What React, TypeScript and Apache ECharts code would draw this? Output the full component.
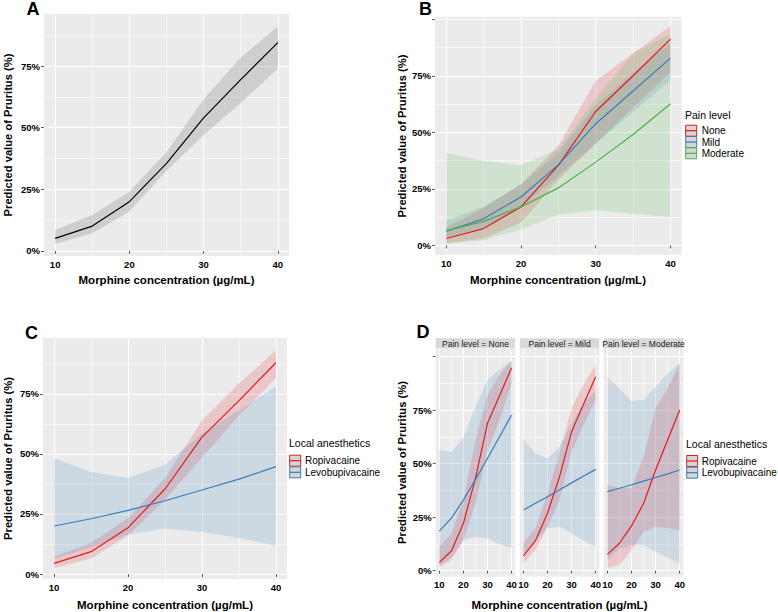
import React, { useEffect, useRef } from 'react';
import * as echarts from 'echarts';

// ---------- data ----------
const doseLevels = [10, 15, 20, 25, 30, 35, 40];
const xMajorTicks = [10, 20, 30, 40];
const xMinorTicks = [15, 25, 35];
const yMajorTicks = [0, 0.25, 0.5, 0.75];
const yMajorTicksFull = [0, 0.25, 0.5, 0.75, 1];
const yMinorTicks = [0.125, 0.375, 0.625, 0.875];
const painLevels = ['None', 'Mild', 'Moderate'];
const anesthetics = ['Ropivacaine', 'Levobupivacaine'];

// Panel A (overall)
const overallFit = [0.051, 0.101, 0.2, 0.355, 0.54, 0.695, 0.845];
const overallLow = [0.028, 0.072, 0.16, 0.325, 0.47, 0.6, 0.74];
const overallHigh = [0.085, 0.146, 0.24, 0.4, 0.615, 0.785, 0.91];

// Panel B (pain level)
const painNoneFit = [0.03, 0.074, 0.17, 0.354, 0.592, 0.75, 0.912];
const painNoneLow = [0.01, 0.03, 0.1, 0.29, 0.45, 0.61, 0.765];
const painNoneHigh = [0.08, 0.165, 0.27, 0.44, 0.728, 0.85, 0.97];
const painMildFit = [0.062, 0.117, 0.214, 0.356, 0.538, 0.683, 0.828];
const painMildLow = [0.034, 0.08, 0.168, 0.305, 0.45, 0.59, 0.73];
const painMildHigh = [0.11, 0.17, 0.27, 0.41, 0.62, 0.765, 0.895];
const painModFit = [0.065, 0.106, 0.17, 0.254, 0.368, 0.49, 0.626];
const painModLow = [0.007, 0.022, 0.069, 0.135, 0.155, 0.14, 0.125];
const painModHigh = [0.41, 0.373, 0.355, 0.425, 0.65, 0.85, 0.935];

// Panel C (local anesthetics)
const ropiFit = [0.044, 0.093, 0.193, 0.354, 0.57, 0.722, 0.88];
const ropiLow = [0.025, 0.065, 0.16, 0.31, 0.485, 0.66, 0.815];
const ropiHigh = [0.072, 0.13, 0.232, 0.4, 0.64, 0.794, 0.932];
const levoFit = [0.2, 0.23, 0.265, 0.305, 0.35, 0.395, 0.447];
const levoLow = [0.065, 0.11, 0.165, 0.19, 0.175, 0.15, 0.118];
const levoHigh = [0.482, 0.425, 0.4, 0.455, 0.585, 0.68, 0.783];

// Panel D (facets by pain level)
const dNoneRopiFit = [0.039, 0.092, 0.221, 0.431, 0.688, 0.817, 0.947];
const dNoneRopiLow = [0.016, 0.05, 0.143, 0.314, 0.563, 0.7, 0.875];
const dNoneRopiHigh = [0.112, 0.174, 0.33, 0.61, 0.82, 0.915, 0.98];
const dNoneLevoFit = [0.185, 0.245, 0.33, 0.425, 0.525, 0.625, 0.727];
const dNoneLevoLow = [0.025, 0.06, 0.143, 0.159, 0.15, 0.125, 0.105];
const dNoneLevoHigh = [0.563, 0.555, 0.618, 0.765, 0.89, 0.94, 0.98];
const dMildRopiFit = [0.069, 0.14, 0.268, 0.439, 0.649, 0.778, 0.905];
const dMildRopiLow = [0.034, 0.097, 0.205, 0.33, 0.555, 0.68, 0.797];
const dMildRopiHigh = [0.128, 0.198, 0.36, 0.55, 0.758, 0.87, 0.96];
const dMildLevoFit = [0.283, 0.315, 0.345, 0.378, 0.41, 0.442, 0.473];
const dMildLevoLow = [0.08, 0.14, 0.198, 0.205, 0.174, 0.14, 0.112];
const dMildLevoHigh = [0.613, 0.548, 0.525, 0.579, 0.688, 0.78, 0.84];
const dModRopiFit = [0.076, 0.128, 0.209, 0.314, 0.47, 0.61, 0.75];
const dModRopiLow = [0.014, 0.027, 0.097, 0.182, 0.205, 0.198, 0.19];
const dModRopiHigh = [0.4, 0.385, 0.387, 0.532, 0.758, 0.85, 0.968];
const dModLevoFit = [0.369, 0.385, 0.401, 0.418, 0.435, 0.452, 0.47];
const dModLevoLow = [0.05, 0.104, 0.12, 0.12, 0.089, 0.06, 0.034];
const dModLevoHigh = [0.905, 0.851, 0.792, 0.797, 0.859, 0.92, 0.968];

// ---------- styles ----------
const FONT = '"Liberation Sans", Arial, sans-serif';
const RED = '#E41A1C';
const BLUE = '#377EB8';
const GREEN = '#4DAF4A';
const RED_FILL = 'rgba(228,26,28,0.17)';
const BLUE_FILL = 'rgba(55,126,184,0.17)';
const GREEN_FILL = 'rgba(77,175,74,0.17)';
const GREY_FILL = 'rgba(153,153,153,0.35)';
const X_MIN = 8.5;
const X_MAX = 41.5;

type Group = { fit: number[]; low: number[]; high: number[]; line: string; fill: string };
type Panel = {
  left: number; top: number; width: number; height: number;
  ymin: number; ymax: number; yTicks: number[]; showY: boolean; groups: Group[];
};

const panels: Panel[] = [
  {
    left: 44, top: 14, width: 245, height: 242, ymin: -0.0203, ymax: 0.961,
    yTicks: yMajorTicks, showY: true,
    groups: [{ fit: overallFit, low: overallLow, high: overallHigh, line: '#000', fill: GREY_FILL }],
  },
  {
    left: 435, top: 16.7, width: 246.7, height: 238.3, ymin: -0.043, ymax: 1.0115,
    yTicks: yMajorTicksFull, showY: true,
    groups: [
      { fit: painNoneFit, low: painNoneLow, high: painNoneHigh, line: RED, fill: RED_FILL },
      { fit: painMildFit, low: painMildLow, high: painMildHigh, line: BLUE, fill: BLUE_FILL },
      { fit: painModFit, low: painModLow, high: painModHigh, line: GREEN, fill: GREEN_FILL },
    ],
  },
  {
    left: 43, top: 338, width: 244, height: 241, ymin: -0.0208, ymax: 0.983,
    yTicks: yMajorTicks, showY: true,
    groups: [
      { fit: ropiFit, low: ropiLow, high: ropiHigh, line: RED, fill: RED_FILL },
      { fit: levoFit, low: levoLow, high: levoHigh, line: BLUE, fill: BLUE_FILL },
    ],
  },
  {
    left: 435.7, top: 348.3, width: 79.5, height: 228.4, ymin: -0.028, ymax: 1.038,
    yTicks: yMajorTicksFull, showY: true,
    groups: [
      { fit: dNoneRopiFit, low: dNoneRopiLow, high: dNoneRopiHigh, line: RED, fill: RED_FILL },
      { fit: dNoneLevoFit, low: dNoneLevoLow, high: dNoneLevoHigh, line: BLUE, fill: BLUE_FILL },
    ],
  },
  {
    left: 519.8, top: 348.3, width: 79.5, height: 228.4, ymin: -0.028, ymax: 1.038,
    yTicks: yMajorTicksFull, showY: false,
    groups: [
      { fit: dMildRopiFit, low: dMildRopiLow, high: dMildRopiHigh, line: RED, fill: RED_FILL },
      { fit: dMildLevoFit, low: dMildLevoLow, high: dMildLevoHigh, line: BLUE, fill: BLUE_FILL },
    ],
  },
  {
    left: 603.8, top: 348.3, width: 79.5, height: 228.4, ymin: -0.028, ymax: 1.038,
    yTicks: yMajorTicksFull, showY: false,
    groups: [
      { fit: dModRopiFit, low: dModRopiLow, high: dModRopiHigh, line: RED, fill: RED_FILL },
      { fit: dModLevoFit, low: dModLevoLow, high: dModLevoHigh, line: BLUE, fill: BLUE_FILL },
    ],
  },
];

function txt(text: string, x: number, y: number, size: number, opts: any = {}) {
  return {
    type: 'text',
    x,
    y,
    rotation: opts.rotation || 0,
    style: {
      text,
      fill: opts.color || '#000',
      fontSize: size,
      fontWeight: opts.bold ? 'bold' : 'normal',
      fontFamily: FONT,
      align: opts.align || 'left',
      verticalAlign: 'middle',
      textAlign: opts.align || 'left',
      textVerticalAlign: 'middle',
    },
  };
}

function legend(title: string, labels: string[], colors: string[], x: number, titleY: number, rowY: number[], textX: number) {
  const els: any[] = [txt(title, x, titleY, 10.5)];
  labels.forEach((lab, i) => {
    const cy = rowY[i];
    els.push({
      type: 'rect',
      shape: { x: x + 0.7, y: cy - 5.5, width: 11, height: 11 },
      style: { fill: '#D5D5D5', stroke: colors[i], lineWidth: 1 },
    });
    els.push({
      type: 'line',
      shape: { x1: x + 0.7, y1: cy, x2: x + 11.7, y2: cy },
      style: { stroke: colors[i], lineWidth: 1.2 },
    });
    els.push(txt(lab, textX, cy, 10));
  });
  return els;
}

function buildOption() {
  const grid: any[] = [];
  const xAxis: any[] = [];
  const yAxis: any[] = [];
  const series: any[] = [];

  panels.forEach((p, i) => {
    grid.push({
      left: p.left, top: p.top, width: p.width, height: p.height,
      show: true, backgroundColor: '#EBEBEB', borderWidth: 0, containLabel: false,
    });
    xAxis.push({
      type: 'value', gridIndex: i, min: X_MIN, max: X_MAX, position: 'bottom',
      axisLine: { show: false },
      axisTick: { show: true, customValues: xMajorTicks, length: 3, lineStyle: { color: '#333', width: 0.8 } },
      axisLabel: {
        show: true, customValues: xMajorTicks, margin: 3, fontSize: 9.5,
        fontWeight: 'bold', color: '#000', fontFamily: FONT,
      },
      splitLine: { show: true, lineStyle: { color: '#FFFFFF', width: 1.1 } },
    });
    xAxis.push({
      type: 'value', gridIndex: i, min: X_MIN, max: X_MAX, position: 'top',
      axisLine: { show: false },
      axisTick: { show: false, customValues: xMinorTicks },
      axisLabel: { show: false, customValues: xMinorTicks },
      splitLine: { show: true, lineStyle: { color: '#FFFFFF', width: 0.55 } },
    });
    yAxis.push({
      type: 'value', gridIndex: i, min: p.ymin, max: p.ymax, position: 'left',
      axisLine: { show: false },
      axisTick: { show: p.showY, customValues: p.yTicks, length: 3, lineStyle: { color: '#333', width: 0.8 } },
      axisLabel: {
        show: p.showY, customValues: yMajorTicks, margin: 4, fontSize: 9.5,
        fontWeight: 'bold', color: '#000', fontFamily: FONT,
        formatter: (v: number) => `${Math.round(v * 100)}%`,
      },
      splitLine: { show: true, lineStyle: { color: '#FFFFFF', width: 1.1 } },
    });
    yAxis.push({
      type: 'value', gridIndex: i, min: p.ymin, max: p.ymax, position: 'right',
      axisLine: { show: false },
      axisTick: { show: false, customValues: yMinorTicks },
      axisLabel: { show: false, customValues: yMinorTicks },
      splitLine: { show: true, lineStyle: { color: '#FFFFFF', width: 0.55 } },
    });

    const xi = i * 2;
    const yi = i * 2;
    p.groups.forEach((g) => {
      series.push({
        type: 'custom',
        xAxisIndex: xi,
        yAxisIndex: yi,
        z: 2,
        silent: true,
        data: [[doseLevels[0], g.low[0]]],
        renderItem: (_params: any, api: any) => {
          const pts: number[][] = [];
          doseLevels.forEach((d, k) => pts.push(api.coord([d, g.high[k]])));
          for (let k = doseLevels.length - 1; k >= 0; k--) pts.push(api.coord([doseLevels[k], g.low[k]]));
          return { type: 'polygon', shape: { points: pts }, style: { fill: g.fill } };
        },
      });
    });
    p.groups.forEach((g) => {
      series.push({
        type: 'line',
        xAxisIndex: xi,
        yAxisIndex: yi,
        z: 3,
        silent: true,
        showSymbol: false,
        symbol: 'none',
        data: doseLevels.map((d, k) => [d, g.fit[k]]),
        lineStyle: { color: g.line, width: 1.2 },
      });
    });
  });

  const graphics: any[] = [];
  // panel letters
  graphics.push(txt('A', 26.5, 8.5, 18, { bold: true }));
  graphics.push(txt('B', 419, 8.5, 18, { bold: true }));
  graphics.push(txt('C', 25, 333, 18, { bold: true }));
  graphics.push(txt('D', 416.5, 331.5, 18, { bold: true }));

  // axis titles
  const yTitle = 'Predicted value of Pruritus (%)';
  const xTitle = 'Morphine concentration (µg/mL)';
  graphics.push(txt(yTitle, 7.5, 135, 11.2, { bold: true, rotation: Math.PI / 2, align: 'center' }));
  graphics.push(txt(yTitle, 401.5, 136, 11.2, { bold: true, rotation: Math.PI / 2, align: 'center' }));
  graphics.push(txt(yTitle, 7.5, 458.5, 11.2, { bold: true, rotation: Math.PI / 2, align: 'center' }));
  graphics.push(txt(yTitle, 402, 462.5, 11.2, { bold: true, rotation: Math.PI / 2, align: 'center' }));
  graphics.push(txt(xTitle, 166.5, 280, 11.5, { bold: true, align: 'center' }));
  graphics.push(txt(xTitle, 558, 280, 11.5, { bold: true, align: 'center' }));
  graphics.push(txt(xTitle, 165, 605, 11.5, { bold: true, align: 'center' }));
  graphics.push(txt(xTitle, 559.5, 605, 11.5, { bold: true, align: 'center' }));

  // facet strips
  [3, 4, 5].forEach((pi, k) => {
    const p = panels[pi];
    graphics.push({
      type: 'rect',
      shape: { x: p.left, y: 338.3, width: p.width, height: 10 },
      style: { fill: '#D9D9D9' },
    });
    graphics.push(txt(`Pain level = ${painLevels[k]}`, p.left + p.width / 2, 343.5, 8.5, { color: '#1A1A1A', align: 'center' }));
  });

  // legends
  graphics.push(...legend('Pain level', painLevels, [RED, BLUE, GREEN], 685, 115, [130.7, 142, 153.3], 701.7));
  graphics.push(...legend('Local anesthetics', anesthetics, [RED, BLUE], 289, 443.3, [460.7, 472.3], 305));
  graphics.push(...legend('Local anesthetics', anesthetics, [RED, BLUE], 686, 444, [461, 472.7], 701.7));

  return {
    animation: false,
    backgroundColor: '#FFFFFF',
    textStyle: { fontFamily: FONT },
    grid,
    xAxis,
    yAxis,
    series,
    graphic: { elements: graphics },
  };
}

export default function App() {
  const ref = useRef<HTMLDivElement>(null);
  useEffect(() => {
    if (!ref.current) return;
    const chart = echarts.init(ref.current, null, { renderer: 'svg' });
    chart.setOption(buildOption() as any);
    return () => chart.dispose();
  }, []);
  return <div ref={ref} style={{ position: 'fixed', left: 0, top: 0, width: 778, height: 612 }} />;
}
